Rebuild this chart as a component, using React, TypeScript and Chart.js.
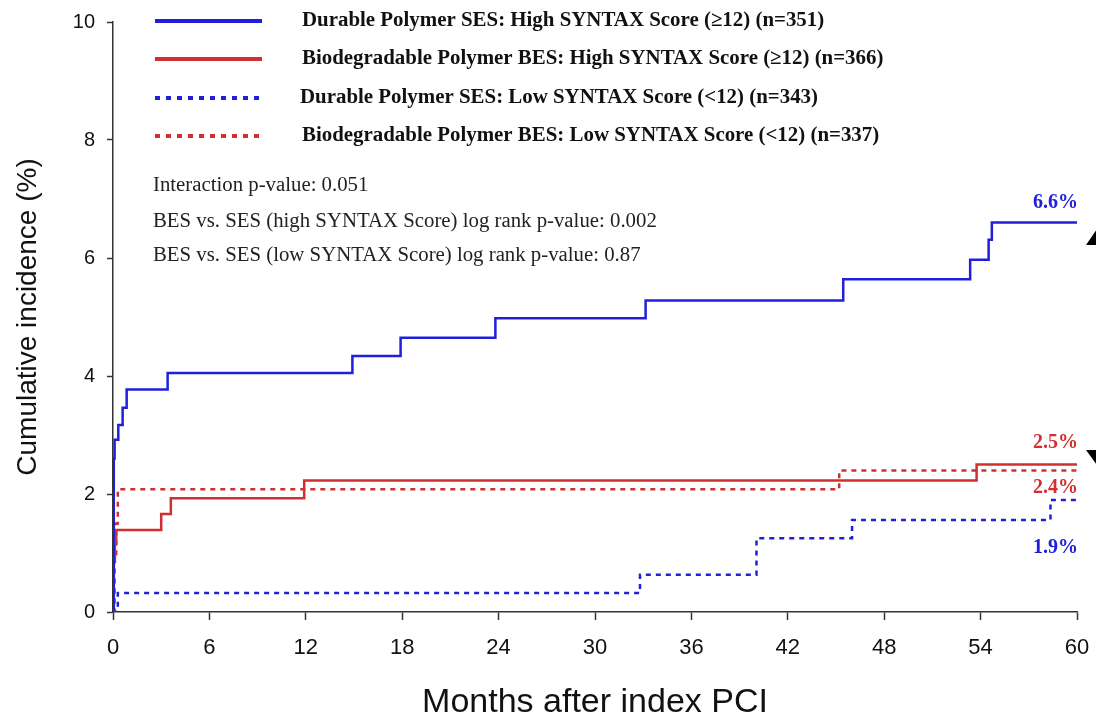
import React, { useEffect, useRef } from "react";
import { Chart, registerables } from "chart.js";

Chart.register(...registerables);

// Kaplan-Meier cumulative incidence (%) by months after index PCI
const sesHighTimes = [0, 0.05, 0.1, 0.33, 0.6, 0.85, 3.4, 14.9, 17.9, 23.8, 33.15, 45.45, 53.35, 54.5, 54.7, 60];
const sesHighValues = [0, 2.6, 2.92, 3.17, 3.46, 3.77, 4.05, 4.34, 4.65, 4.98, 5.28, 5.64, 5.97, 6.31, 6.6, 6.6];

const besHighTimes = [0, 0.05, 0.12, 0.2, 3.0, 3.6, 11.9, 53.75, 60];
const besHighValues = [0, 0.85, 1.15, 1.39, 1.66, 1.93, 2.23, 2.5, 2.5];

const sesLowTimes = [0, 0.3, 32.8, 40.05, 46.0, 58.35, 60];
const sesLowValues = [0, 0.32, 0.63, 1.25, 1.56, 1.9, 1.9];

const besLowTimes = [0, 0.1, 0.2, 0.3, 45.2, 60];
const besLowValues = [0, 0.9, 1.5, 2.08, 2.4, 2.4];

const seriesLabels = [
  "Durable Polymer SES: High SYNTAX Score (\u226512) (n=351)",
  "Biodegradable Polymer BES: High SYNTAX Score (\u226512) (n=366)",
  "Durable Polymer SES: Low SYNTAX Score (<12) (n=343)",
  "Biodegradable Polymer BES: Low SYNTAX Score (<12) (n=337)",
];

const statLines = [
  "Interaction p-value: 0.051",
  "BES vs. SES (high SYNTAX Score) log rank p-value: 0.002",
  "BES vs. SES (low SYNTAX Score) log rank p-value: 0.87",
];

const BLUE = "#2020dc";
const RED = "#d03030";
const SERIF = "'Liberation Serif', 'Times New Roman', serif";
const SANS = "'Liberation Sans', Arial, sans-serif";

// legend rows (line sample + bold caption)
const legendRowY = [21, 59, 98, 136];
const legendTextX = [302, 302, 300, 302];
const statRowY = [186, 222, 256];
// vertical offset of each end-of-curve percentage label from its curve
const endLabelOffset = [-20, -22, 48, 17];

const toPoints = (t: number[], v: number[]) => t.map((x, i) => ({ x, y: v[i] }));

const overlayPlugin = {
  id: "overlay",
  afterDraw(chart: any) {
    const { ctx } = chart;
    const xs = chart.scales.x;
    const ys = chart.scales.y;
    ctx.save();

    // legend
    chart.data.datasets.forEach((ds: any, i: number) => {
      const y = legendRowY[i];
      ctx.beginPath();
      ctx.strokeStyle = ds.borderColor;
      ctx.lineWidth = 4;
      ctx.setLineDash(ds.borderDash && ds.borderDash.length ? [5, 6] : []);
      ctx.moveTo(155, y);
      ctx.lineTo(262, y);
      ctx.stroke();
      ctx.setLineDash([]);
      ctx.fillStyle = "#111";
      ctx.font = `bold 20.9px ${SERIF}`;
      ctx.textAlign = "left";
      ctx.textBaseline = "middle";
      ctx.fillText(ds.label, legendTextX[i], y);
    });

    // statistics block
    ctx.font = `20.8px ${SERIF}`;
    ctx.fillStyle = "#222";
    statLines.forEach((s, i) => {
      ctx.fillText(s, 153, statRowY[i]);
    });

    // final cumulative incidence labels
    ctx.font = `bold 20px ${SERIF}`;
    ctx.textAlign = "right";
    chart.data.datasets.forEach((ds: any, i: number) => {
      const last = ds.data[ds.data.length - 1];
      const y = ys.getPixelForValue(last.y) + endLabelOffset[i];
      ctx.fillStyle = ds.borderColor;
      ctx.fillText(`${last.y.toFixed(1)}%`, xs.getPixelForValue(60) + 1, y);
    });

    // arrow heads at the right margin
    ctx.fillStyle = "#000";
    ctx.beginPath();
    ctx.moveTo(1086, 245);
    ctx.lineTo(1097, 229);
    ctx.lineTo(1108, 245);
    ctx.closePath();
    ctx.fill();
    ctx.beginPath();
    ctx.moveTo(1086, 450);
    ctx.lineTo(1108, 450);
    ctx.lineTo(1097, 465);
    ctx.closePath();
    ctx.fill();

    ctx.restore();
  },
};

export default function App() {
  const canvasRef = useRef<HTMLCanvasElement | null>(null);

  useEffect(() => {
    if (!canvasRef.current) return;
    const chart = new Chart(canvasRef.current, {
      type: "line",
      data: {
        datasets: [
          {
            label: seriesLabels[0],
            data: toPoints(sesHighTimes, sesHighValues),
            borderColor: BLUE,
            borderWidth: 2.5,
            stepped: true,
            pointRadius: 0,
            borderDash: [],
          },
          {
            label: seriesLabels[1],
            data: toPoints(besHighTimes, besHighValues),
            borderColor: RED,
            borderWidth: 2.5,
            stepped: true,
            pointRadius: 0,
            borderDash: [],
          },
          {
            label: seriesLabels[2],
            data: toPoints(sesLowTimes, sesLowValues),
            borderColor: BLUE,
            borderWidth: 2.5,
            stepped: true,
            pointRadius: 0,
            borderDash: [5, 5],
          },
          {
            label: seriesLabels[3],
            data: toPoints(besLowTimes, besLowValues),
            borderColor: RED,
            borderWidth: 2.5,
            stepped: true,
            pointRadius: 0,
            borderDash: [5, 5],
          },
        ],
      },
      options: {
        animation: false,
        responsive: true,
        maintainAspectRatio: false,
        layout: { padding: { top: 22, right: 19, left: 0, bottom: 0 } },
        plugins: { legend: { display: false }, tooltip: { enabled: false } },
        scales: {
          x: {
            type: "linear",
            min: 0,
            max: 60,
            afterFit: (s: any) => {
              s.height = 105;
              s.paddingLeft = 0;
              s.paddingRight = 0;
            },
            border: { display: true, color: "#333", width: 1.5 },
            grid: { drawOnChartArea: false, drawTicks: true, tickLength: 8, tickColor: "#333", tickWidth: 1.5 },
            ticks: {
              stepSize: 6,
              color: "#111",
              padding: 15,
              font: { family: "'Liberation Sans Narrow', " + SANS, size: 22 },
            },
            title: {
              display: true,
              text: "Months after index PCI",
              color: "#111",
              font: { family: SANS, size: 34, lineHeight: 1.2 },
              padding: { top: 0, bottom: -6 },
            },
          },
          y: {
            min: 0,
            max: 10,
            afterFit: (s: any) => {
              s.width = 113;
              s.paddingTop = 0;
              s.paddingBottom = 0;
            },
            border: { display: true, color: "#333", width: 1.5 },
            grid: { drawOnChartArea: false, drawTicks: true, tickLength: 6, tickColor: "#333", tickWidth: 1.5 },
            ticks: {
              stepSize: 2,
              color: "#111",
              padding: 12,
              font: { family: SANS, size: 20 },
            },
            title: {
              display: true,
              text: "Cumulative incidence (%)",
              color: "#111",
              font: { family: SANS, size: 28, lineHeight: 1.2 },
              padding: { top: 11, bottom: 0 },
            },
          },
        },
      },
      plugins: [overlayPlugin],
    });
    return () => chart.destroy();
  }, []);

  return (
    <div style={{ position: "absolute", left: 0, top: 0, width: 1096, height: 717, background: "#fff" }}>
      <canvas ref={canvasRef} />
    </div>
  );
}
